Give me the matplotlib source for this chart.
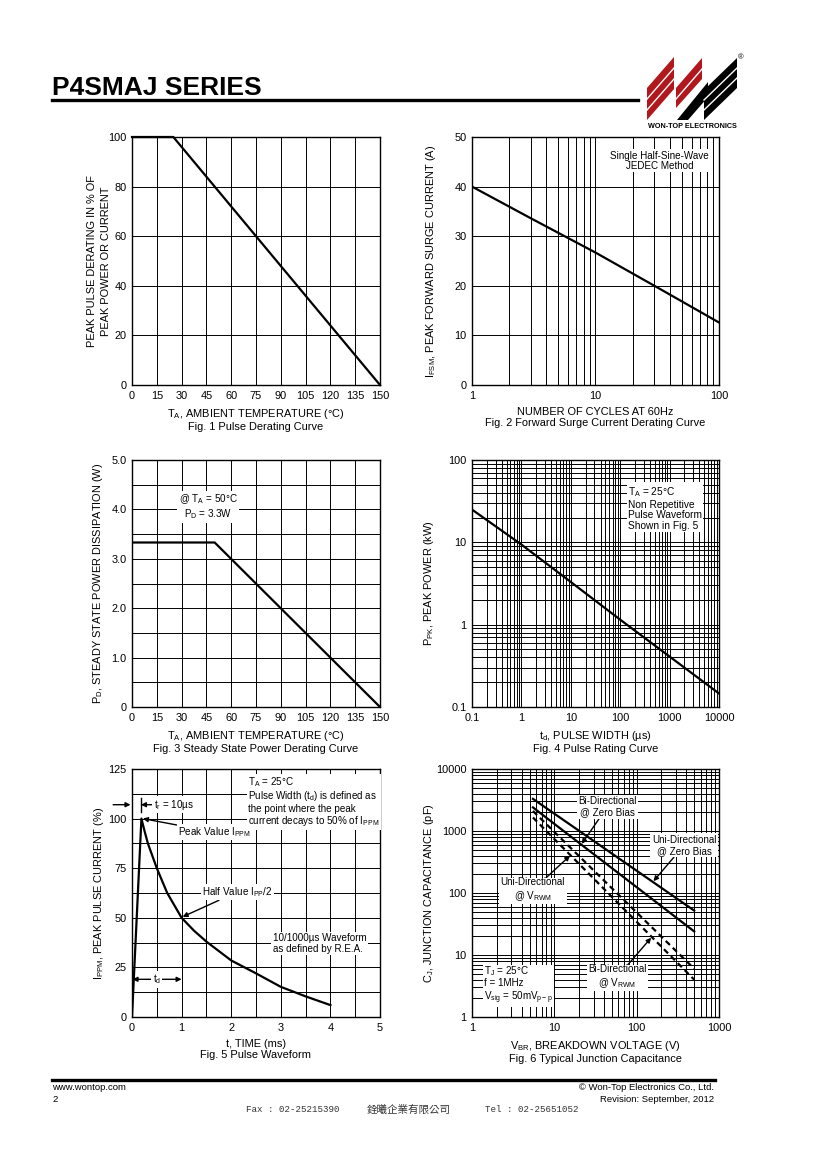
import numpy as np
import matplotlib
matplotlib.use("Agg")
import matplotlib.pyplot as plt
from matplotlib.ticker import LogLocator, NullFormatter, FixedLocator
from matplotlib.patches import Polygon
from matplotlib.lines import Line2D

plt.rcParams['font.family'] = ['Liberation Sans', 'DejaVu Sans']
plt.rcParams['mathtext.fontset'] = 'custom'
plt.rcParams['mathtext.rm'] = 'Liberation Sans'
plt.rcParams['mathtext.it'] = 'Liberation Sans:italic'
plt.rcParams['mathtext.bf'] = 'Liberation Sans:bold'
plt.rcParams['mathtext.default'] = 'rm'

# ----- data -----
fig1_temp = [0, 25, 150]
fig1_pct = [100, 100, 0]

fig2_cycles = [1, 3, 10, 30, 100]
fig2_current = [40, 33.6, 26.7, 20, 12.6]

fig3_temp = [0, 50, 150]
fig3_power = [3.33, 3.33, 0]

fig4_width = [0.1, 1, 10, 100, 1000, 10000]
fig4_power = [25, 9.4, 3.3, 1.15, 0.41, 0.146]

fig5_time = [0, 0.19, 0.25, 0.32, 0.5, 0.71, 1.0, 1.25, 1.5, 2.0, 2.5, 3.0, 3.5, 4.0]
fig5_current = [0, 100, 94, 87.5, 75, 62.5, 50, 43.5, 38, 28.5, 22, 15.2, 10.4, 6]

fig6_vbr = [5.5, 500]
fig6_uni_zero = [3300, 52]
fig6_bi_zero = [2400, 24]
fig6_uni_vrwm = [2100, 6]
fig6_bi_vrwm = [1650, 4]

W, H = 820, 1160
fig = plt.figure(figsize=(8.2, 11.6), dpi=100)
FS = 7.9     # ticks and axis labels
FA = 7.1     # notes inside the plots
LS = 1.06
box = dict(fc='white', ec='none', pad=1.0)
arrow = dict(arrowstyle='-|>', color='black', lw=1.0, mutation_scale=7, shrinkA=0, shrinkB=0)


def px_axes(x0, y0, x1, y1):
    return fig.add_axes([x0 / W, 1 - y1 / H, (x1 - x0) / W, (y1 - y0) / H])


def fxy(x, y):
    return x / W, 1 - y / H


def style(ax, ylab, xlab, ycoord, yspacing=1.0):
    for s in ax.spines.values():
        s.set_linewidth(1.0)
    ax.tick_params(which='both', length=0, pad=4, labelsize=FS)
    ax.grid(True, which='both', color='black', lw=0.7)
    ax.set_axisbelow(True)
    ax.set_ylabel(ylab, fontsize=FS, linespacing=yspacing)
    ax.set_xlabel(xlab, fontsize=FS, linespacing=1.05)
    ax.yaxis.set_label_coords(ycoord, 0.5)
    ax.xaxis.set_label_coords(0.5, -0.09)


def log_axis(axis):
    axis.set_major_locator(LogLocator(base=10, numticks=20))
    axis.set_minor_locator(LogLocator(base=10, subs=np.arange(2, 10), numticks=100))
    axis.set_minor_formatter(NullFormatter())


# ----- Fig. 1 -----
ax1 = px_axes(132, 137, 380, 385)
ax1.plot(fig1_temp, fig1_pct, color='black', lw=1.6, clip_on=False)
ax1.set_xlim(0, 150)
ax1.set_ylim(0, 100)
ax1.set_xticks(range(0, 151, 15))
ax1.set_yticks(range(0, 101, 20))
style(ax1, 'PEAK PULSE DERATING IN % OF\nPEAK POWER OR CURRENT',
      r'T$_A$, AMBIENT TEMPERATURE (°C)' + '\nFig. 1 Pulse Derating Curve', -0.085, 1.45)

# ----- Fig. 2 -----
ax2 = px_axes(472, 137, 719, 385)
ax2.plot(fig2_cycles, fig2_current, color='black', lw=1.6)
ax2.set_xscale('log')
ax2.set_xlim(1, 100)
ax2.set_ylim(0, 50)
log_axis(ax2.xaxis)
ax2.set_xticks([1, 10, 100])
ax2.set_xticklabels(['1', '10', '100'])
ax2.set_yticks(range(0, 51, 10))
style(ax2, r'I$_{FSM}$, PEAK FORWARD SURGE CURRENT (A)',
      'NUMBER OF CYCLES AT 60Hz\nFig. 2 Forward Surge Current Derating Curve', -0.138)
ax2.text(33, 45.2, 'Single Half-Sine-Wave\nJEDEC Method', fontsize=FA, ha='center', va='center',
         linespacing=LS, bbox=box)

# ----- Fig. 3 -----
ax3 = px_axes(132, 460, 380, 707)
ax3.plot(fig3_temp, fig3_power, color='black', lw=1.6)
ax3.set_xlim(0, 150)
ax3.set_ylim(0, 5)
ax3.set_xticks(range(0, 151, 15))
ax3.set_yticks([0, 1, 2, 3, 4, 5])
ax3.set_yticklabels(['0', '1.0', '2.0', '3.0', '4.0', '5.0'])
ax3.yaxis.set_minor_locator(FixedLocator(np.arange(0.5, 5, 1.0)))
style(ax3, r'P$_D$, STEADY STATE POWER DISSIPATION (W)',
      r'T$_A$, AMBIENT TEMPERATURE (°C)' + '\nFig. 3 Steady State Power Derating Curve', -0.109)
ax3.text(46, 4.05, '@ T$_A$ = 50°C\nP$_D$ = 3.3W', fontsize=FA, ha='center', va='center',
         linespacing=1.12, bbox=box)

# ----- Fig. 4 -----
ax4 = px_axes(472, 460, 719, 707)
ax4.plot(fig4_width, fig4_power, color='black', lw=1.6)
ax4.set_xscale('log')
ax4.set_yscale('log')
ax4.set_xlim(0.1, 10000)
ax4.set_ylim(0.1, 100)
log_axis(ax4.xaxis)
log_axis(ax4.yaxis)
ax4.set_xticks([0.1, 1, 10, 100, 1000, 10000])
ax4.set_xticklabels(['0.1', '1', '10', '100', '1000', '10000'])
ax4.set_yticks([0.1, 1, 10, 100])
ax4.set_yticklabels(['0.1', '1', '10', '100'])
style(ax4, r'P$_{PK}$, PEAK POWER (kW)',
      r't$_d$, PULSE WIDTH (µs)' + '\nFig. 4 Pulse Rating Curve', -0.146)
ax4.text(144, 26, 'T$_A$ = 25°C\nNon Repetitive\nPulse Waveform\nShown in Fig. 5', fontsize=7.3,
         ha='left', va='center', linespacing=LS, bbox=box)

# ----- Fig. 5 -----
ax5 = px_axes(132, 769, 380, 1017)
ax5.plot(fig5_time, fig5_current, color='black', lw=1.6)
ax5.set_xlim(0, 5)
ax5.set_ylim(0, 125)
ax5.set_xticks(range(0, 6))
ax5.set_yticks(range(0, 126, 25))
ax5.xaxis.set_minor_locator(FixedLocator(np.arange(0.5, 5, 1.0)))
ax5.yaxis.set_minor_locator(FixedLocator(np.arange(12.5, 125, 25)))
style(ax5, r'I$_{PPM}$, PEAK PULSE CURRENT (%)',
      't, TIME (ms)\nFig. 5 Pulse Waveform', -0.105)
ax5.text(2.34, 122, 'T$_A$ = 25°C\nPulse Width (t$_d$) is defined as\nthe point where the peak\n'
         'current decays to 50% of I$_{PPM}$', fontsize=FA, ha='left', va='top', linespacing=LS,
         bbox=box)
ax5.annotate('', xy=(-0.03, 107), xytext=(-0.38, 107), arrowprops=arrow, annotation_clip=False)
ax5.annotate('t$_r$ = 10µs', xy=(0.18, 107), xytext=(0.44, 107), fontsize=FA, va='center',
             arrowprops=arrow, bbox=box)
ax5.plot([0.18, 0.18], [103.5, 110.5], color='black', lw=1.0)
ax5.annotate('Peak Value I$_{PPM}$', xy=(0.22, 100), xytext=(0.93, 93.2), fontsize=FA, va='center',
             arrowprops=arrow, bbox=box)
ax5.annotate('Half Value I$_{PP}$/2', xy=(1.02, 50.5), xytext=(1.41, 63), fontsize=FA, va='center',
             arrowprops=arrow, bbox=box)
ax5.text(2.84, 37, '10/1000µs Waveform\nas defined by R.E.A.', fontsize=FA, ha='left', va='center',
         linespacing=LS, bbox=box)
ax5.annotate('', xy=(0.01, 19), xytext=(1.0, 19),
             arrowprops=dict(arrowstyle='<|-|>', color='black', lw=1.0, mutation_scale=7,
                             shrinkA=0, shrinkB=0))
ax5.text(0.5, 19, 't$_d$', fontsize=FA, ha='center', va='center', bbox=box)

# ----- Fig. 6 -----
dash = (0, (2.6, 1.8))
ax6 = px_axes(472, 769, 719, 1017)
ax6.plot(fig6_vbr, fig6_uni_zero, color='black', lw=1.6)
ax6.plot(fig6_vbr, fig6_bi_zero, color='black', lw=1.6)
ax6.plot(fig6_vbr, fig6_uni_vrwm, color='black', lw=1.6, ls=dash)
ax6.plot(fig6_vbr, fig6_bi_vrwm, color='black', lw=1.6, ls=dash)
ax6.set_xscale('log')
ax6.set_yscale('log')
ax6.set_xlim(1, 1000)
ax6.set_ylim(1, 10000)
log_axis(ax6.xaxis)
log_axis(ax6.yaxis)
ax6.set_xticks([1, 10, 100, 1000])
ax6.set_xticklabels(['1', '10', '100', '1000'])
ax6.set_yticks([1, 10, 100, 1000, 10000])
ax6.set_yticklabels(['1', '10', '100', '1000', '10000'])
style(ax6, r'C$_J$, JUNCTION CAPACITANCE (pF)',
      r'V$_{BR}$, BREAKDOWN VOLTAGE (V)' + '\nFig. 6 Typical Junction Capacitance', -0.146)
ax6.annotate('Bi-Directional\n@ Zero Bias', xy=(21.5, 620), xytext=(44, 2450), fontsize=FA,
             ha='center', va='center', linespacing=1.16, arrowprops=arrow, bbox=box)
ax6.annotate('Uni-Directional\n@ Zero Bias', xy=(160, 155), xytext=(377, 590), fontsize=FA,
             ha='center', va='center', linespacing=1.16, arrowprops=arrow, bbox=box)
ax6.annotate('Uni-Directional\n@ V$_{RWM}$', xy=(15.5, 400), xytext=(5.5, 112), fontsize=FA,
             ha='center', va='center', linespacing=1.16, arrowprops=arrow, bbox=box)
ax6.annotate('Bi-Directional\n@ V$_{RWM}$', xy=(150, 19), xytext=(58, 4.4), fontsize=FA,
             ha='center', va='center', linespacing=1.16, arrowprops=arrow, bbox=box)
ax6.text(1.4, 3.3, 'T$_J$ = 25°C\nf = 1MHz\nV$_{sig}$ = 50mV$_{p-p}$', fontsize=FA, ha='left',
         va='center', linespacing=LS, bbox=box)

# ----- header -----
fig.text(*fxy(52, 95), 'P4SMAJ SERIES', fontsize=19, fontweight='bold', ha='left', va='baseline')
fig.add_artist(Line2D([52 / W, 638 / W], [1 - 100 / H] * 2, color='black', lw=2.4))

red = '#B0181D'
logo_shapes = [
    ([(647, 120), (647, 88), (674, 57), (674, 89)], red),
    ([(676, 108), (676, 88), (702, 58), (702, 79)], red),
    ([(677, 120), (688, 120), (708, 97), (708, 82)], 'black'),
    ([(704, 120), (704, 90), (737, 58), (737, 88)], 'black'),
]
for pts, col in logo_shapes:
    fig.add_artist(Polygon([fxy(x, y) for x, y in pts], closed=True, fc=col, ec='none',
                           transform=fig.transFigure))
# white slits across the logo bands
for x0, y0, x1, y1 in [(647, 99, 674, 68), (647, 110, 674, 79), (676, 99, 702, 69),
                       (704, 100, 737, 68), (704, 110, 737, 78)]:
    fig.add_artist(Line2D([x0 / W, x1 / W], [1 - y0 / H, 1 - y1 / H], color='white', lw=1.0))
fig.text(*fxy(692, 127), 'WON-TOP ELECTRONICS', fontsize=5.2, fontweight='bold', ha='center', va='center')
fig.text(*fxy(741, 58), '®', fontsize=5.5, ha='center', va='center')

# ----- footer -----
fig.add_artist(Line2D([52 / W, 715 / W], [1 - 1080 / H] * 2, color='black', lw=2.4))
fig.text(*fxy(52, 1088), 'www.wontop.com', fontsize=6.8, ha='left', va='center')
fig.text(*fxy(52, 1099), '2', fontsize=6.8, ha='left', va='center')
fig.text(*fxy(714, 1088), '© Won-Top Electronics Co., Ltd.', fontsize=6.8, ha='right', va='center')
fig.text(*fxy(714, 1099), 'Revision: September, 2012', fontsize=6.8, ha='right', va='center')
mono = ['Liberation Mono', 'Noto Sans CJK TC']
fig.text(*fxy(246, 1110), 'Fax : 02-25215390', fontsize=6.6, family=mono, color='#333333', va='center')
fig.text(*fxy(409, 1110), '銓曦企業有限公司', fontsize=7.6, family=['Noto Sans CJK TC'], color='#333333',
         ha='center', va='center')
fig.text(*fxy(485, 1110), 'Tel : 02-25651052', fontsize=6.6, family=mono, color='#333333', va='center')

fig.savefig('out.png', dpi=100)
